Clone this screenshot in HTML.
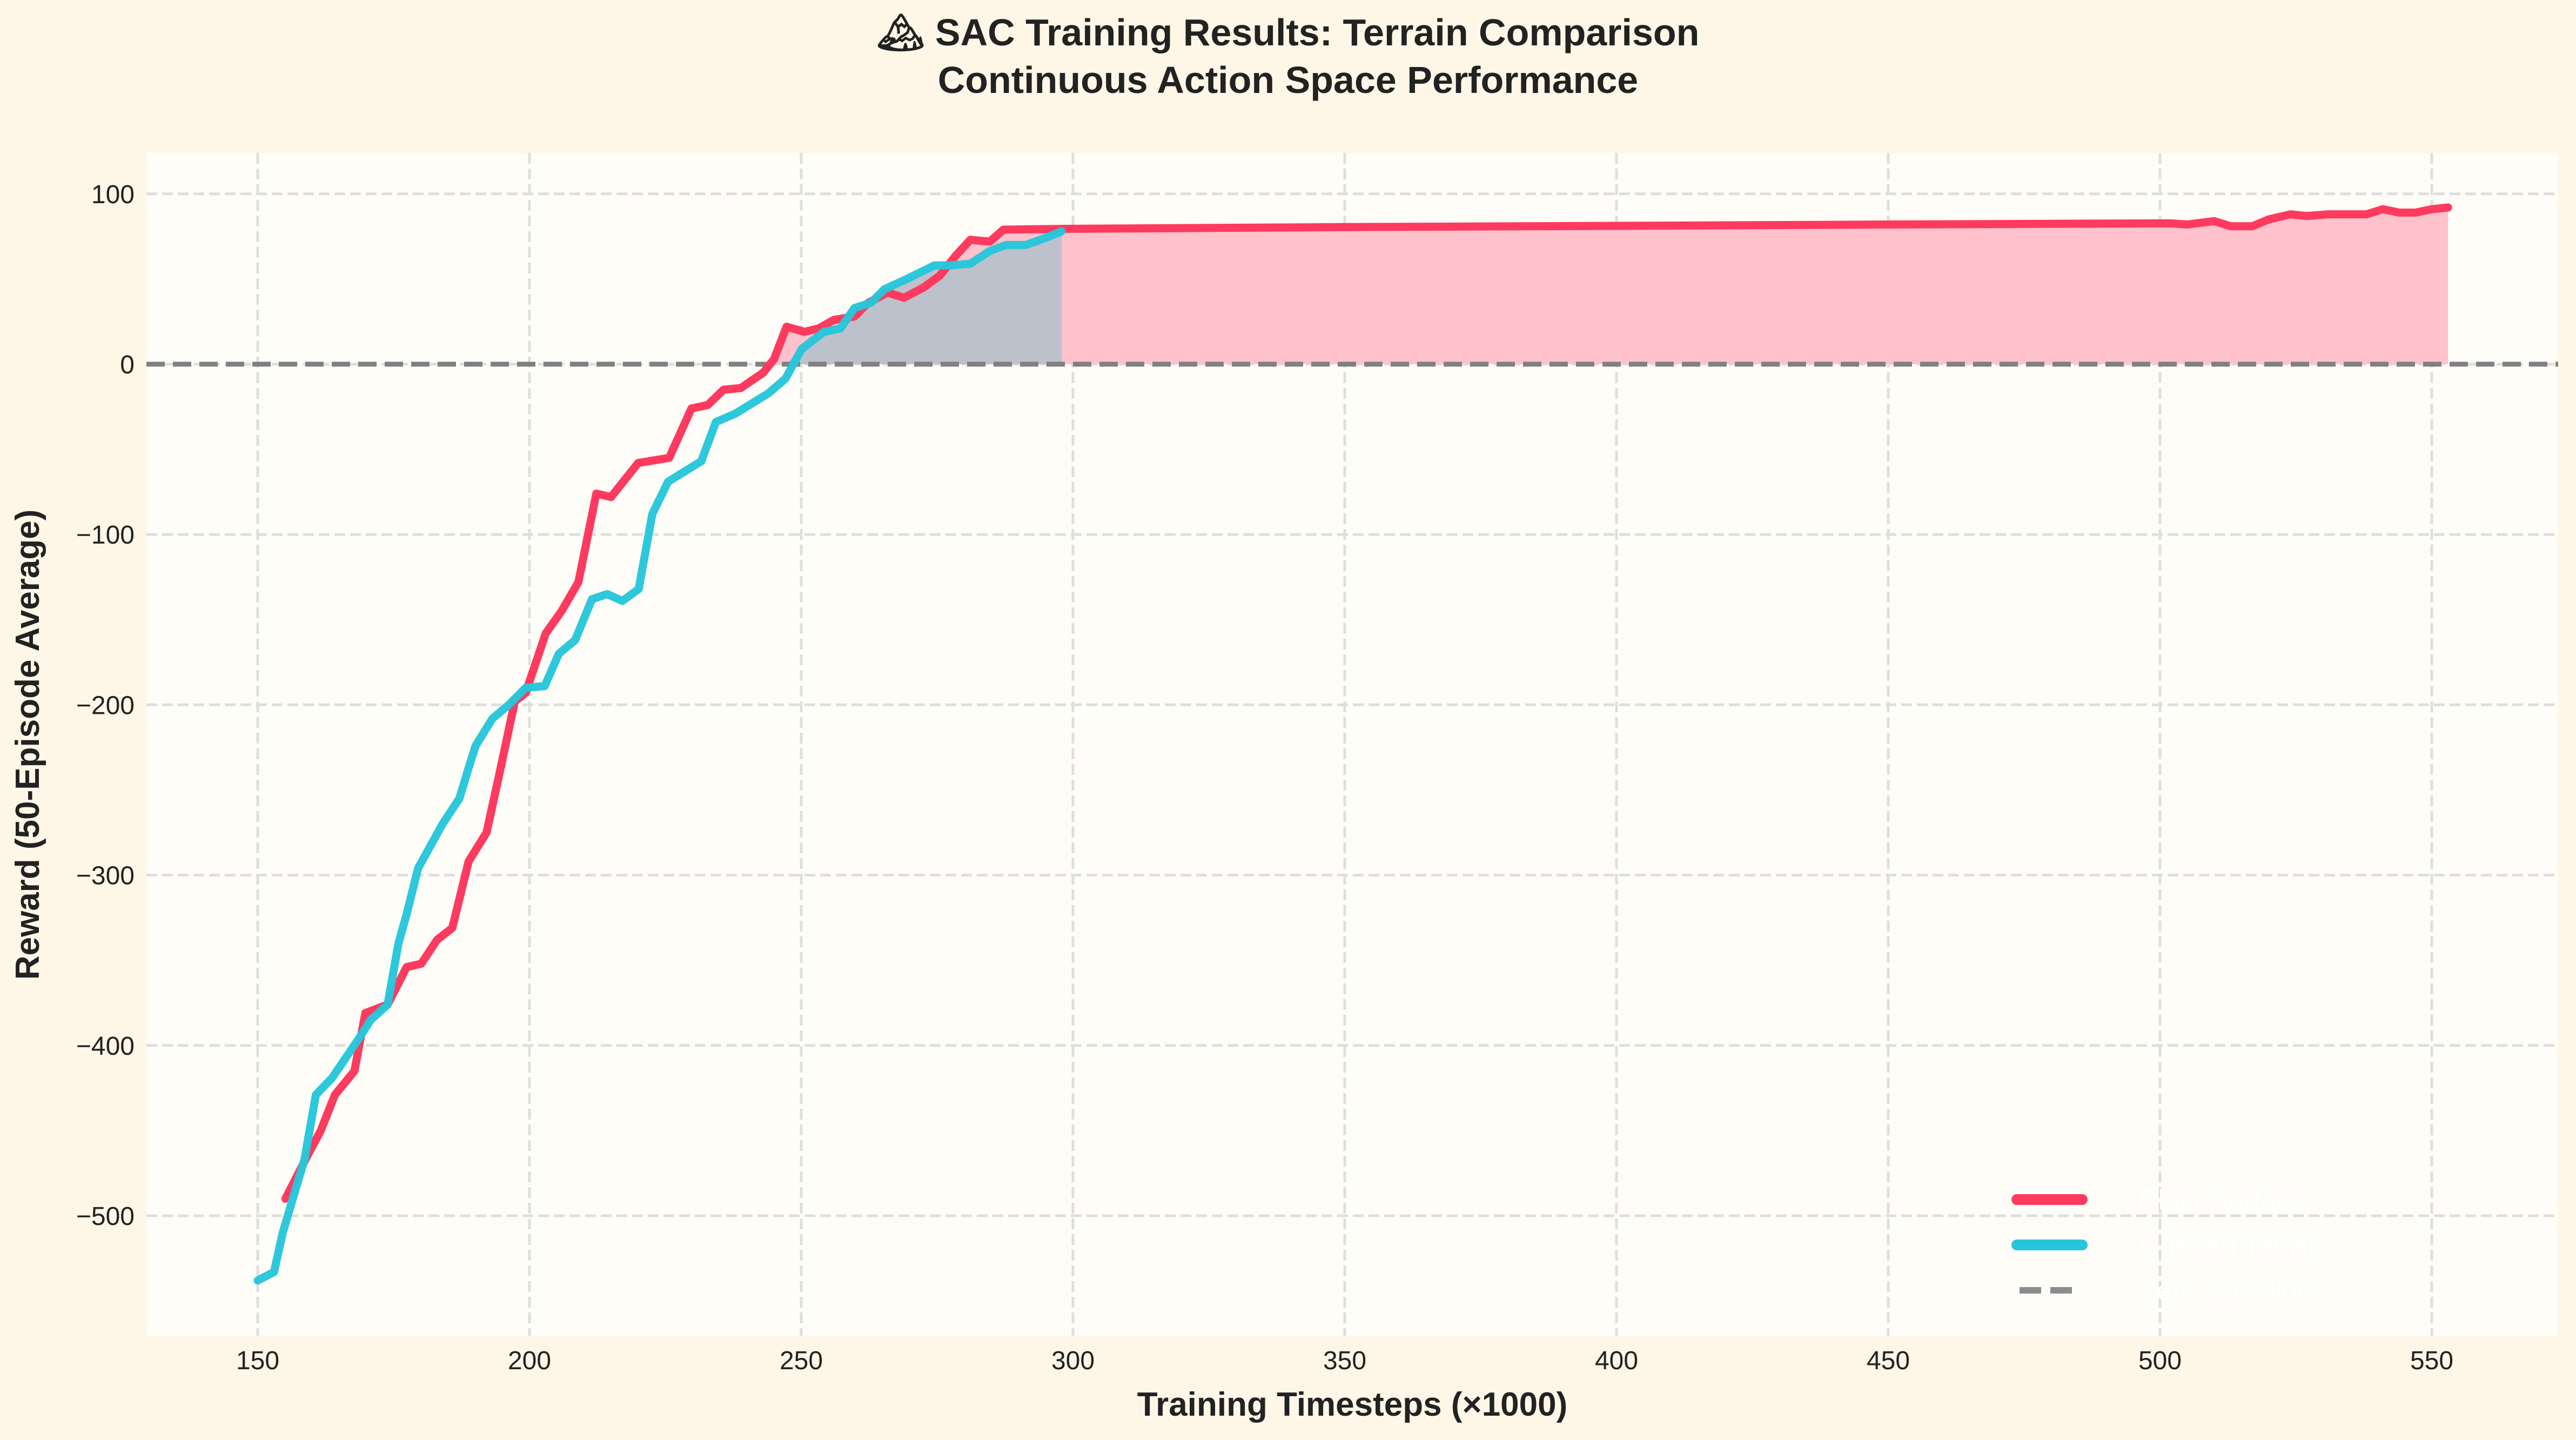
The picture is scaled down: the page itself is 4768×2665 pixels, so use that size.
<!DOCTYPE html>
<html><head><meta charset="utf-8">
<style>
html,body{margin:0;padding:0;background:#fef7e7;}
svg{display:block;font-family:"Liberation Sans","DejaVu Sans",sans-serif;}
</style></head>
<body>
<svg id="chart" width="4768" height="2665" viewBox="0 0 4768 2665" xmlns="http://www.w3.org/2000/svg">
<rect x="0" y="0" width="4768" height="2665" fill="#fef7e7"/>
<text x="2384" y="84" text-anchor="middle" font-size="70" font-weight="bold" fill="#222">🏔 SAC Training Results: Terrain Comparison</text>
<text x="2384" y="172" text-anchor="middle" font-size="70" font-weight="bold" fill="#222">Continuous Action Space Performance</text>
<rect x="271" y="283" width="4464" height="2189" fill="#fffdf8"/>
<g id="grid"></g>
<g id="fills"></g>
<g id="lines"></g>
<g id="axes"></g>
<text x="2503" y="2620" text-anchor="middle" font-size="62" font-weight="bold" fill="#222">Training Timesteps (×1000)</text>
<text x="0" y="0" transform="translate(72,1378) rotate(-90)" text-anchor="middle" font-size="62" font-weight="bold" fill="#222">Reward (50-Episode Average)</text>
<g>
  <line x1="3733" y1="2220" x2="3854" y2="2220" stroke="#ff3a5f" stroke-width="20" stroke-linecap="round"/>
  <text x="3960" y="2238" font-size="52" fill="#ffffff">Plain Surface</text>
  <line x1="3733" y1="2304" x2="3854" y2="2304" stroke="#26c6da" stroke-width="20" stroke-linecap="round"/>
  <text x="3960" y="2322" font-size="52" fill="#ffffff">Uneven Terrain</text>
  <line x1="3738" y1="2388" x2="3846" y2="2388" stroke="#8c8c8c" stroke-width="12" stroke-dasharray="40,17"/>
  <text x="3960" y="2406" font-size="52" fill="#ffffff">Zero Baseline</text>
</g>
</svg>
<script>
const plainX = [155.1,159.1,161.6,164.2,167.8,169.8,173.9,177.4,180.1,183,185.8,188.8,192.1,194.3,197.3,199.3,203,205.9,209,212.3,215,220,225.7,229.8,232.8,235.7,238.9,243,245,247.3,250.6,253.2,256,259.8,262.3,265.9,268.9,272.5,275.5,278.5,281.1,284.7,287.2,300,350,400,450,500,502,505,510,513,517,520,524,527,531,535,538,541,544,547,550,553];
const plainY = [-490,-465,-450,-429,-415,-381,-376,-354,-352,-338,-331,-292,-275,-243,-198,-193,-158,-145,-128,-76,-78,-58,-55,-26,-24,-15,-14,-5,3,22,19,21,26,28,36,42,39,45,52,64,73,72,79,79.5,80.5,81.2,82,82.7,82.7,82,84,81,81,85,88,87,88,88,88,91,89,89,91,92];
const unevenX = [150,153,154.6,158.6,160.7,163.7,165.2,168.8,170.8,173.9,175.9,177.4,179.5,184,187.1,189.1,190.1,193.2,196.2,199.3,202.8,205.4,208.4,211.5,214.3,217.1,220.1,222.6,225.5,231.6,234.3,237.9,244,247.1,250.1,254.2,257.2,259.8,262.8,265.3,269.4,274.5,277.5,281.1,284.7,287.7,291.3,294.8,297.9];
const unevenY = [-538,-533,-510,-467,-429,-419,-412,-395,-385,-376,-340,-323,-296,-270,-255,-234,-224,-208,-200,-190,-189,-170,-162,-138,-135,-139,-132,-88,-69,-57,-34,-29,-17,-8.5,9,19,21,33,36,44,50,58,58,59,66.5,70,70,74,78];
const xTicks = [150,200,250,300,350,400,450,500,550];
const yTicks = [100,0,-100,-200,-300,-400,-500];

const NS = "http://www.w3.org/2000/svg";
const L=271,R=4735,T=283,B=2472;
function sx(v){return 477+(v-150)*10.06;}
function sy(v){return 674+(0-v)*3.152;}
function mk(tag, attrs, parent){const e=document.createElementNS(NS,tag);for(const k in attrs)e.setAttribute(k,attrs[k]);parent.appendChild(e);return e;}
const grid=document.getElementById('grid'),fills=document.getElementById('fills'),lines=document.getElementById('lines'),axes=document.getElementById('axes');

xTicks.forEach(v=>{
  const g=mk('line',{x1:sx(v),x2:sx(v),y1:T,y2:B,stroke:'#dedede','stroke-width':5,'stroke-dasharray':'20,9'},grid);
  
  
  const t=mk('text',{x:sx(v),y:B+62,'text-anchor':'middle','font-size':48,fill:'#222'},axes);
  t.textContent=v;
  
  
});
yTicks.forEach(v=>{
  const g=mk('line',{x1:L,x2:R,y1:sy(v),y2:sy(v),stroke:'#dedede','stroke-width':5,'stroke-dasharray':'20,9'},grid);
  
  
  const t=mk('text',{x:L-22,y:sy(v)+17,'text-anchor':'end','font-size':48,fill:'#222'},axes);
  t.textContent=(v<0?'\u2212'+(-v):v);
  
  
});

function fillPath(xs,ys){
  let d='M'+sx(xs[0])+','+sy(0);
  for(let i=0;i<xs.length;i++)d+=' L'+sx(xs[i])+','+sy(Math.max(0,ys[i]));
  d+=' L'+sx(xs[xs.length-1])+','+sy(0)+' Z';
  return d;
}
const f1=mk('path',{d:fillPath(plainX,plainY),fill:'#ffc2cc'},fills);


const f2=mk('path',{d:fillPath(unevenX,unevenY),fill:'#bcc1cc'},fills);



const zl=mk('line',{x1:L,x2:R,y1:sy(0),y2:sy(0),stroke:'#808080','stroke-width':9,'stroke-dasharray':'34,15'},lines);



function linePts(xs,ys){return xs.map((x,i)=>sx(x)+','+sy(ys[i])).join(' ');}
const l1=mk('polyline',{points:linePts(plainX,plainY),fill:'none',stroke:'#ff3a5f','stroke-width':15,'stroke-linejoin':'round','stroke-linecap':'round'},lines);


const l2=mk('polyline',{points:linePts(unevenX,unevenY),fill:'none',stroke:'#26c6da','stroke-width':15,'stroke-linejoin':'round','stroke-linecap':'round','stroke-opacity':0.97},lines);


</script>
</body></html>
